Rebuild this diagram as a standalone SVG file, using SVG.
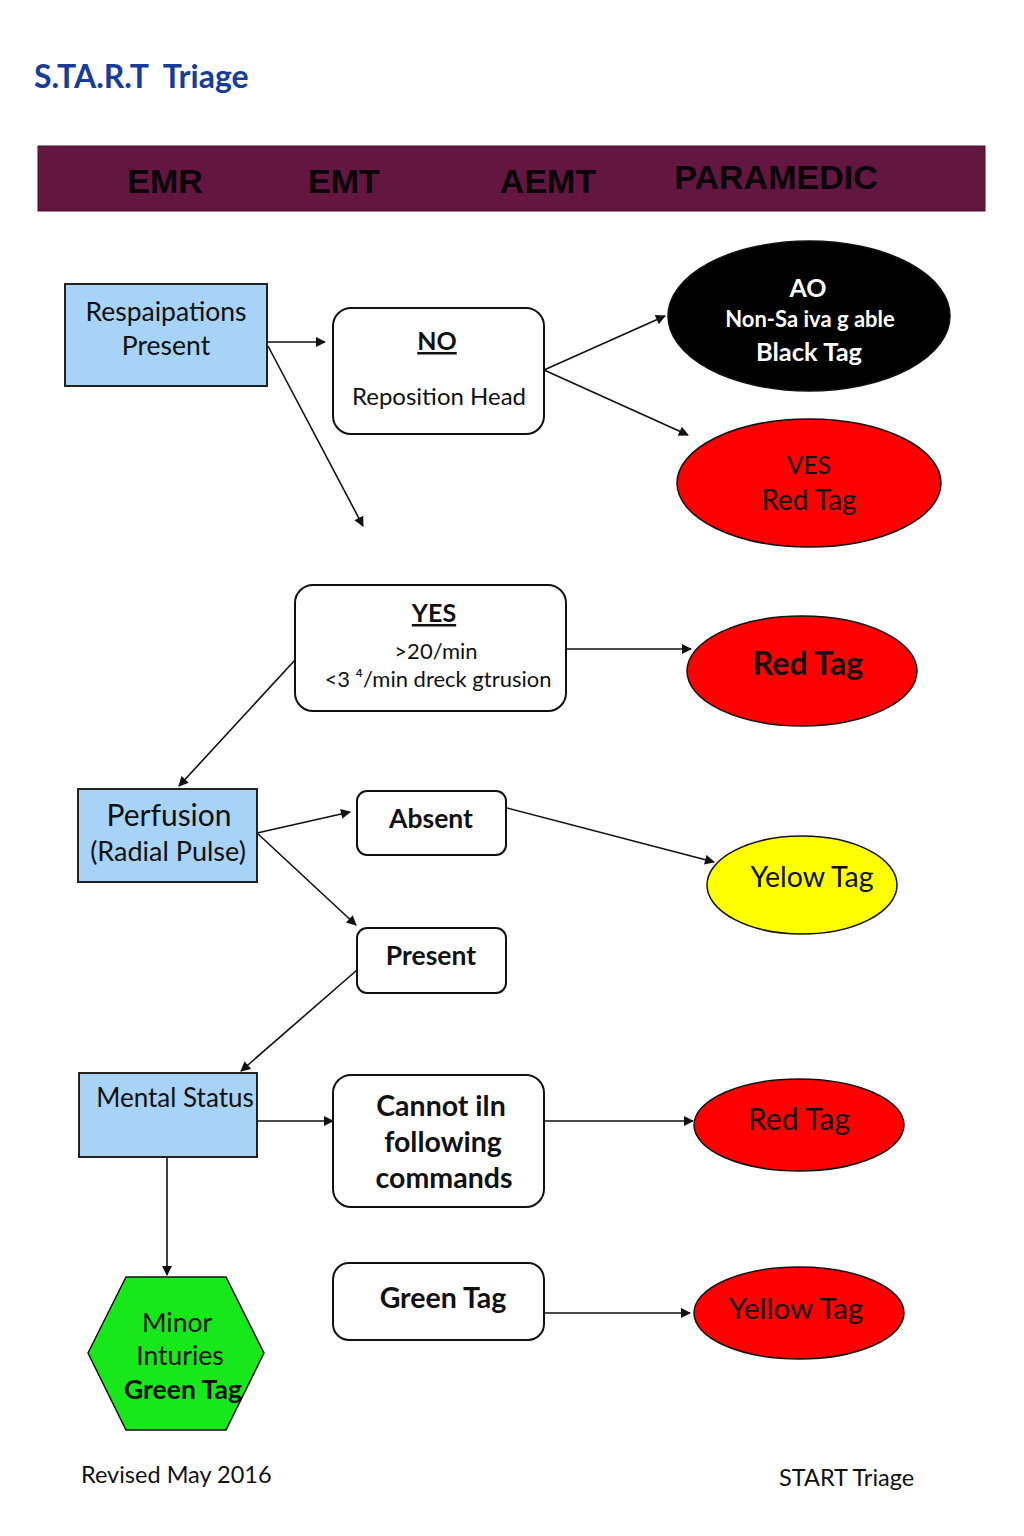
<svg xmlns="http://www.w3.org/2000/svg" width="1024" height="1536" viewBox="0 0 1024 1536">
<style>
.t{font-family:Lato,"Open Sans","Liberation Sans",sans-serif;fill:#111;text-anchor:middle}
.b{font-weight:bold}
.hdr{font-family:"Liberation Sans",Arial,sans-serif;font-weight:bold;font-size:34px;fill:#0a0508;text-anchor:middle}
.blue{fill:#A7D3F6;stroke:#222;stroke-width:2}
.rr{fill:#fff;stroke:#111;stroke-width:2}
.ell{stroke:#111;stroke-width:1.5}
.c line{stroke:#111;stroke-width:1.6;marker-end:url(#ah)}
</style>
<defs>
<marker id="ah" viewBox="0 0 10 10" refX="9" refY="5" markerWidth="11" markerHeight="10" markerUnits="userSpaceOnUse" orient="auto">
<path d="M0,0 L10,5 L0,10 z" fill="#111"/>
</marker>
</defs>
<rect width="1024" height="1536" fill="#fff"/>
<text x="34" y="88" xml:space="preserve" font-family="Lato,'Open Sans',sans-serif" font-weight="bold" font-size="32" fill="#173C9A">S.TA.R.T  Triage</text>
<g id="header">
<rect x="38" y="146" width="947" height="65" fill="#63163F" stroke="#4a1030" stroke-width="1"/>
<text class="hdr" x="165" y="193">EMR</text>
<text class="hdr" x="344" y="193">EMT</text>
<text class="hdr" x="548" y="193">AEMT</text>
<text class="hdr" x="776" y="189">PARAMEDIC</text>
</g>
<g class="c" id="connectors">
<line x1="267" y1="342" x2="325" y2="342"/>
<line x1="268" y1="346" x2="363" y2="526"/>
<line x1="544" y1="370" x2="665" y2="316"/>
<line x1="544" y1="370" x2="688" y2="435"/>
<line x1="566" y1="649" x2="691" y2="649"/>
<line x1="295" y1="660" x2="179" y2="786"/>
<line x1="257" y1="833" x2="350" y2="812"/>
<line x1="257" y1="833" x2="356" y2="925"/>
<line x1="507" y1="808" x2="714" y2="862"/>
<line x1="357" y1="970" x2="241" y2="1071"/>
<line x1="257" y1="1121" x2="333" y2="1121"/>
<line x1="545" y1="1121" x2="693" y2="1121"/>
<line x1="167" y1="1157" x2="167" y2="1275"/>
<line x1="545" y1="1313" x2="690" y2="1313"/>
</g>
<g id="respirations">
<rect class="blue" x="65" y="284" width="202" height="102"/>
<text class="t" x="166" y="321" font-size="26.5">Respaipations</text>
<text class="t" x="166" y="355" font-size="26.5">Present</text>
</g>
<g id="no">
<rect class="rr" x="333" y="308" width="211" height="126" rx="18"/>
<text class="t b" x="437" y="350" font-size="25" text-decoration="underline">NO</text>
<text class="t" x="439" y="405" font-size="24">Reposition Head</text>
</g>
<g id="black">
<ellipse class="ell" cx="809" cy="316" rx="141" ry="75" fill="#000"/>
<text class="t b" x="808" y="297" font-size="25" style="fill:#fff">AO</text>
<text class="t b" x="810" y="327" font-size="22" style="fill:#fff">Non-Sa iva g able</text>
<text class="t b" x="809" y="361" font-size="25.5" style="fill:#fff">Black Tag</text>
</g>
<g id="ves">
<ellipse class="ell" cx="809" cy="483" rx="132" ry="64" fill="#F00"/>
<text class="t" x="809" y="474" font-size="24.5">VES</text>
<text class="t" x="809" y="510" font-size="28">Red Tag</text>
</g>
<g id="yes">
<rect class="rr" x="295" y="585" width="271" height="126" rx="18"/>
<text class="t b" x="434" y="622" font-size="25" text-decoration="underline">YES</text>
<text class="t" x="436" y="659" font-size="22">&gt;20/min</text>
<text class="t" x="438" y="687" font-size="22">&lt;3 ⁴/min dreck gtrusion</text>
</g>
<g id="redtag1">
<ellipse class="ell" cx="802" cy="671" rx="115" ry="55" fill="#F00"/>
<text class="t b" x="808" y="675" font-size="32">Red Tag</text>
</g>
<g id="perfusion">
<rect class="blue" x="78" y="789" width="179" height="93"/>
<text class="t" x="169" y="826" font-size="30">Perfusion</text>
<text class="t" x="168" y="861" font-size="27">(Radial Pulse)</text>
</g>
<g id="absent">
<rect class="rr" x="357" y="791" width="149" height="64" rx="10"/>
<text class="t b" x="431" y="828" font-size="26.5">Absent</text>
</g>
<g id="present">
<rect class="rr" x="357" y="928" width="149" height="65" rx="10"/>
<text class="t b" x="431" y="965" font-size="26.5">Present</text>
</g>
<g id="yellow">
<ellipse class="ell" cx="802" cy="885" rx="95" ry="49" fill="#FFFF00"/>
<text class="t" x="812" y="887" font-size="28.5">Yelow Tag</text>
</g>
<g id="mental">
<rect class="blue" x="79" y="1073" width="178" height="84"/>
<text class="t" x="175" y="1107" font-size="26">Mental Status</text>
</g>
<g id="cannot">
<rect class="rr" x="333" y="1075" width="211" height="132" rx="18"/>
<text class="t b" x="441" y="1116" font-size="28.5">Cannot iln</text>
<text class="t b" x="443" y="1152" font-size="28.5">following</text>
<text class="t b" x="444" y="1188" font-size="28.5">commands</text>
</g>
<g id="redtag2">
<ellipse class="ell" cx="799" cy="1125" rx="105" ry="46" fill="#F00"/>
<text class="t" x="799" y="1130" font-size="30">Red Tag</text>
</g>
<g id="minor">
<polygon points="88,1353 126,1277 226,1277 264,1353 226,1430 126,1430" fill="#17E81A" stroke="#111" stroke-width="1.5"/>
<text class="t" x="177" y="1332" font-size="26.5">Minor</text>
<text class="t" x="180" y="1365" font-size="26.5">Inturies</text>
<text class="t b" x="183" y="1399" font-size="26.5">Green Tag</text>
</g>
<g id="greentag">
<rect class="rr" x="333" y="1263" width="211" height="77" rx="16"/>
<text class="t b" x="443" y="1308" font-size="28.5">Green Tag</text>
</g>
<g id="yellowtag2">
<ellipse class="ell" cx="799" cy="1313" rx="105" ry="46" fill="#F00"/>
<text class="t" x="796" y="1319" font-size="29.5">Yellow Tag</text>
</g>
<text x="81" y="1483" font-family="Lato,'Open Sans',sans-serif" font-size="23.5" fill="#111">Revised May 2016</text>
<text x="779" y="1486" font-family="Lato,'Open Sans',sans-serif" font-size="23.5" fill="#111">START Triage</text>
</svg>
